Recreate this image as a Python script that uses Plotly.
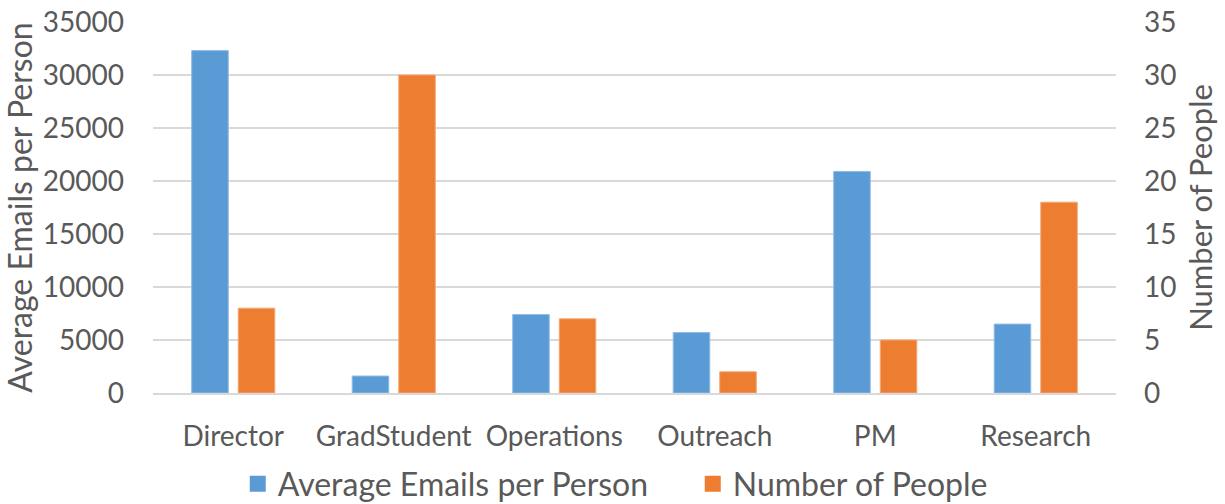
import plotly.graph_objects as go

# 数据
categories = ["Director", "GradStudent", "Operations", "Outreach", "PM", "Research"]
avg_emails = [32300, 1600, 7400, 5700, 20900, 6500]
num_people = [8, 30, 7, 2, 5, 18]

SERIES_NAMES = ["Average Emails per Person", "Number of People"]
COLORS = ["#5b9bd5", "#ed7d31"]
EDGE_COLORS = ["#8fbbe6", "#f4a877"]

FONT = "Lato"
TEXT_COLOR = "#595959"
GRID_COLOR = "#d9d9d9"

fig = go.Figure()
fig.add_trace(go.Bar(
    x=categories, y=avg_emails, name=SERIES_NAMES[0],
    marker=dict(color=COLORS[0], line=dict(color=EDGE_COLORS[0], width=1)),
    offsetgroup="1", yaxis="y", showlegend=False,
))
fig.add_trace(go.Bar(
    x=categories, y=num_people, name=SERIES_NAMES[1],
    marker=dict(color=COLORS[1], line=dict(color=EDGE_COLORS[1], width=1)),
    offsetgroup="2", yaxis="y2", showlegend=False,
))
# 图例用更大的方块标记（bar 的图例方块太小）
for name, color in zip(SERIES_NAMES, COLORS):
    fig.add_trace(go.Scatter(
        x=[None], y=[None], mode="markers", name=name,
        marker=dict(symbol="square", size=18, color=color),
    ))

fig.update_layout(
    width=1225, height=504,
    autosize=False,
    margin=dict(l=153, r=109, t=22, b=111),
    paper_bgcolor="white", plot_bgcolor="white",
    font=dict(family=FONT, size=26, color=TEXT_COLOR),
    barmode="group",
    bargap=0.42,
    bargroupgap=0.215,
    xaxis=dict(
        showgrid=False, showline=True, linecolor=GRID_COLOR, linewidth=1.5,
        ticks="", tickfont=dict(size=28), ticklabelstandoff=18, automargin=False,
    ),
    yaxis=dict(
        range=[0, 35000], dtick=5000, tickformat="d", showgrid=True,
        gridcolor=GRID_COLOR, gridwidth=1.5, zeroline=False, showline=False,
        ticks="", tickfont=dict(size=28), ticklabelstandoff=28, automargin=False,
        title=dict(text="Average Emails per Person", font=dict(size=32), standoff=6),
    ),
    yaxis2=dict(
        range=[0, 35], dtick=5, overlaying="y", side="right", showgrid=False,
        zeroline=False, showline=False, ticks="", tickfont=dict(size=28),
        ticklabelstandoff=27, automargin=False,
        title=dict(text="Number of People", font=dict(size=31), standoff=14),
    ),
    legend=dict(
        orientation="h", xref="paper", yref="container",
        x=0.088, xanchor="left", y=0.04, yanchor="middle",
        font=dict(size=32), itemwidth=30, tracegroupgap=0,
        entrywidth=410, entrywidthmode="pixels",
    ),
)

# 去掉页面 body 默认 8px 边距，让图贴住窗口左上角
fig.write_html(
    "out.html",
    config={"displayModeBar": False},
    post_script="document.body.style.margin='0';",
)
